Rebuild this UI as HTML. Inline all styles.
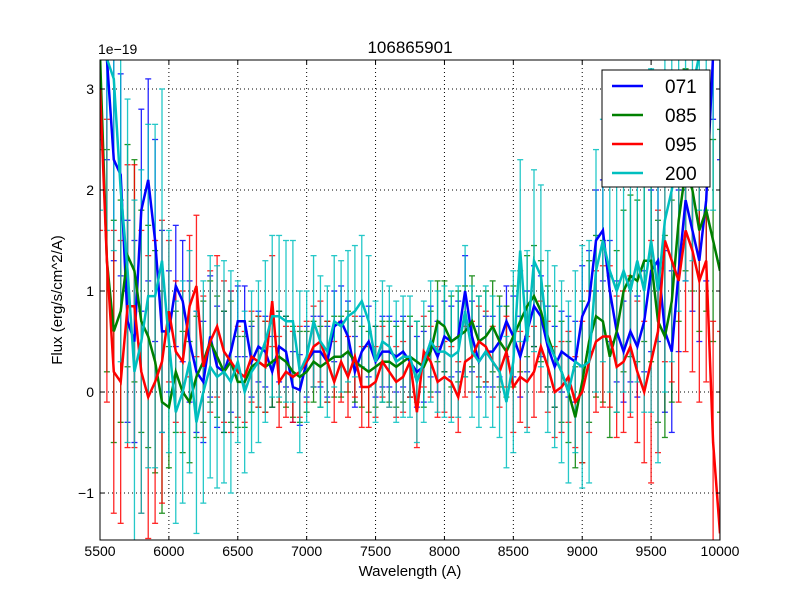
<!DOCTYPE html>
<html><head><meta charset="utf-8"><style>
html,body{margin:0;padding:0;background:#fff;width:800px;height:600px;overflow:hidden;}
svg{display:block;}
svg text{font-family:"Liberation Sans","DejaVu Sans",sans-serif;fill:#000;}
</style></head><body>
<svg id="chart" width="800" height="600" xmlns="http://www.w3.org/2000/svg">
<rect width="800" height="600" fill="#fff"/>
<defs><clipPath id="clip"><rect x="100" y="60" width="620" height="480"/></clipPath></defs>
<g id="grid"></g>
<g id="series" clip-path="url(#clip)"></g>
<rect x="100" y="60" width="620" height="480" fill="none" stroke="#000" stroke-width="1"/>
<g id="axes"></g>
<text x="410" y="53" font-size="17" text-anchor="middle">106865901</text>
<text x="98" y="54" font-size="14">1e−19</text>
<text x="410" y="576" font-size="15" text-anchor="middle">Wavelength (A)</text>
<text x="62" y="300" font-size="15" text-anchor="middle" transform="rotate(-90 62 300)">Flux (erg/s/cm^2/A)</text>
<g>
<rect x="602" y="70" width="108" height="117" fill="#fff" stroke="#000"/>
<g id="legend"></g>
</g>
</svg>
<script>
const wavelengths=[];for(let w=5500;w<=10000;w+=50)wavelengths.push(w);
const s071=[3.5,3.3,2.3,2.15,0.7,0.5,1.8,2.1,1.5,0.6,0.6,1.05,0.9,0.5,0.2,0.1,0.55,0.25,0.2,0.4,0.7,0.7,0.3,0.45,0.4,0.2,0.45,0.4,0.05,0.02,0.3,0.4,0.4,0.3,0.65,0.7,0.55,0.2,0.4,0.5,0.3,0.4,0.4,0.35,0.4,0.3,0.2,0.25,0.5,0.35,0.55,0.5,0.55,1.0,0.55,0.3,0.4,0.4,0.5,0.7,0.55,0.35,0.6,0.85,0.75,0.45,0.25,0.4,0.35,0.3,0.75,0.9,1.5,1.6,1.0,0.6,0.4,0.6,0.45,0.7,1.2,1.3,0.6,0.4,1.2,1.9,1.6,1.3,1.9,3.5,3.5];
const s085=[3.5,1.3,0.6,0.8,1.35,1.2,0.7,0.55,0.3,-0.1,-0.15,0.2,0.0,-0.1,0.15,0.3,0.5,0.35,0.2,0.3,0.1,0.1,0.25,0.3,0.25,0.3,0.35,0.3,0.2,0.15,0.2,0.3,0.25,0.3,0.35,0.35,0.4,0.3,0.25,0.2,0.25,0.3,0.3,0.25,0.3,0.35,0.3,0.25,0.4,0.7,0.65,0.5,0.55,0.6,0.7,0.5,0.55,0.65,0.5,0.4,0.55,0.7,0.85,0.95,0.8,0.55,0.35,0.2,0.0,-0.25,0.1,0.5,0.75,0.7,0.35,0.6,1.0,1.15,1.1,1.3,1.3,0.7,0.55,0.9,1.7,2.2,2.0,1.6,1.8,1.5,1.2];
const s095=[3.0,1.3,0.2,0.1,0.85,0.85,0.2,-0.05,0.1,0.3,0.8,0.4,0.3,0.85,1.05,0.25,0.5,0.65,0.4,0.3,0.2,0.15,0.35,0.3,0.25,0.9,0.1,0.2,0.15,0.2,0.3,0.45,0.5,0.3,0.1,0.3,0.15,0.35,0.05,0.05,0.1,0.3,0.2,0.1,0.15,0.3,-0.2,0.4,0.3,0.1,0.15,0.1,-0.05,0.3,0.35,0.5,0.45,0.3,0.2,0.4,0.05,0.15,0.1,0.2,0.45,0.25,0.0,0.05,0.15,-0.1,0.0,0.3,0.5,0.55,0.55,0.25,0.3,0.45,0.2,0.0,0.3,0.6,1.5,1.3,1.1,1.6,1.4,1.1,1.3,-0.5,-1.4];
const s200=[3.5,3.3,3.1,2.0,1.2,0.2,0.5,0.95,0.95,1.3,0.5,-0.2,0.0,0.3,-0.3,0.0,0.25,0.15,0.2,0.1,0.3,0.0,0.2,0.3,0.5,0.75,0.75,0.7,0.7,0.2,0.35,0.7,0.5,0.4,0.7,0.65,0.75,0.8,0.9,0.7,0.3,0.5,0.45,0.3,0.35,0.35,0.1,0.3,0.5,0.4,0.4,0.35,0.4,0.8,0.4,0.3,0.4,0.3,0.2,-0.1,0.3,1.4,0.5,1.3,1.15,0.5,0.35,0.2,0.0,0.3,0.25,0.3,1.2,1.5,1.2,1.0,1.2,1.0,1.3,1.0,1.5,1.0,1.7,2.0,2.5,2.8,3.0,3.5,3.5,3.5,3.5];
const errBands071=[1.0,0.6,0.35,0.35,0.35,0.35,0.4,0.5,0.8,1.2];
const errBands085=[1.1,0.6,0.45,0.4,0.4,0.45,0.5,0.8,1.0,1.4];
const errBands095=[1.4,0.7,0.45,0.4,0.35,0.35,0.45,0.7,1.2,2.0];
const errBands200=[1.7,1.1,0.8,0.65,0.6,0.65,0.9,1.2,1.7,2.2];
const seriesNames=["071","085","095","200"];
const colors=["#0000ff","#008000","#ff0000","#00bfbf"];
const xTicks=[5500,6000,6500,7000,7500,8000,8500,9000,9500,10000];
const yTicks=[-1,0,1,2,3];
const yTickLabels=["−1","0","1","2","3"];

const NS="http://www.w3.org/2000/svg";
const X0=100,X1=720,Y0=540,Y1=60,XMIN=5500,XMAX=10000,YMIN=-1.465,YMAX=3.287;
const xs=v=>X0+(v-XMIN)/(XMAX-XMIN)*(X1-X0);
const ysRaw=v=>Y0-(v-YMIN)/(YMAX-YMIN)*(Y0-Y1);
const ys=v=>Math.max(Y1-5,Math.min(Y0+2,ysRaw(v)));
function mk(tag,attrs,parent){const e=document.createElementNS(NS,tag);for(const k in attrs)e.setAttribute(k,attrs[k]);parent.appendChild(e);return e;}
const grid=document.getElementById('grid'),axes=document.getElementById('axes'),ser=document.getElementById('series'),leg=document.getElementById('legend');
xTicks.forEach((t,i)=>{
  const x=xs(t);
  const g=mk('line',{x1:x,x2:x,y1:Y1,y2:Y0,stroke:'#000','stroke-dasharray':'1,3','stroke-width':1},grid);
  
  
  mk('line',{x1:x,x2:x,y1:Y0,y2:Y0-4,stroke:'#000'},axes);
  mk('line',{x1:x,x2:x,y1:Y1,y2:Y1+4,stroke:'#000'},axes);
  const tx=mk('text',{x:x,y:556,'font-size':14,'text-anchor':'middle'},axes);
  tx.textContent=t;
  
  
});
yTicks.forEach((t,i)=>{
  const y=ys(t);
  const g=mk('line',{x1:X0,x2:X1,y1:y,y2:y,stroke:'#000','stroke-dasharray':'1,3','stroke-width':1},grid);
  
  
  mk('line',{x1:X0,x2:X0+4,y1:y,y2:y,stroke:'#000'},axes);
  mk('line',{x1:X1,x2:X1-4,y1:y,y2:y,stroke:'#000'},axes);
  const tx=mk('text',{x:94,y:y+5,'font-size':14,'text-anchor':'end'},axes);
  tx.textContent=yTickLabels[i];
  
  
});
const allSeries=[s071,s085,s095,s200];
const allErr=[errBands071,errBands085,errBands095,errBands200];
allSeries.forEach((vals,si)=>{
  const g=mk('g',{},ser);
  
  
  const eg=mk('g',{stroke:colors[si],'stroke-width':1.3,opacity:0.85},g);
  
  
  vals.forEach((v,i)=>{
    const band=Math.min(9,Math.floor((wavelengths[i]-5500)/500));
    const e=allErr[si][band];
    const x=xs(wavelengths[i]);
    mk('line',{x1:x,x2:x,y1:ys(v-e),y2:ys(v+e)},eg);
    if(v-e>YMIN) mk('line',{x1:x-3,x2:x+3,y1:ys(v-e),y2:ys(v-e)},eg);
    if(v+e<YMAX) mk('line',{x1:x-3,x2:x+3,y1:ys(v+e),y2:ys(v+e)},eg);
  });
});
allSeries.forEach((vals,si)=>{
  const d=vals.map((v,i)=>(i?'L':'M')+xs(wavelengths[i]).toFixed(1)+','+ys(v).toFixed(1)).join('');
  const p=mk('path',{d:d,fill:'none',stroke:colors[si],'stroke-width':2.5,'stroke-linejoin':'miter'},ser);
  
  
});
seriesNames.forEach((n,i)=>{
  const y=86+i*29;
  const g=mk('g',{},leg);
  
  
  mk('line',{x1:612,x2:643,y1:y,y2:y,stroke:colors[i],'stroke-width':2.5},g);
  const t=mk('text',{x:665,y:y+7,'font-size':19},g);
  t.textContent=n;
});
</script>
</body></html>
